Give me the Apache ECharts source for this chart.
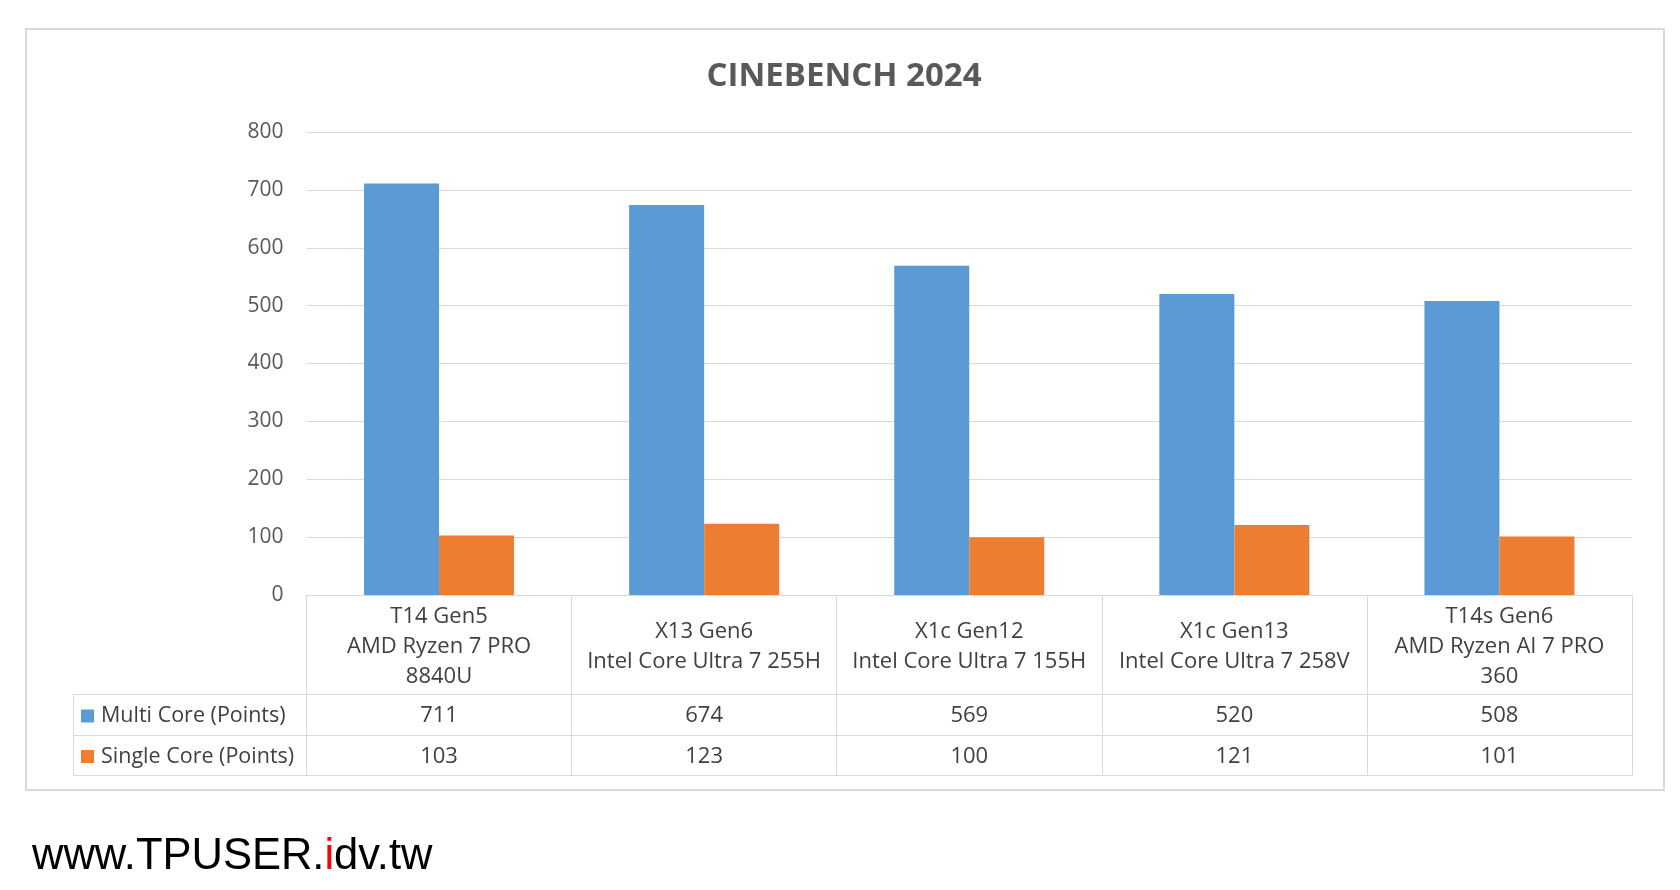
<!DOCTYPE html>
<html><head><meta charset="utf-8">
<script src="https://cdn.jsdelivr.net/npm/echarts@6/dist/echarts.min.js"></script>
<style>html,body{margin:0;padding:0;background:#fff}#c{width:1680px;height:890px}</style>
</head><body><div id="c"></div>
<script>
const chartTitle = 'CINEBENCH 2024';
const categories = [
  'T14 Gen5\nAMD Ryzen 7 PRO\n8840U',
  'X13 Gen6\nIntel Core Ultra 7 255H',
  'X1c Gen12\nIntel Core Ultra 7 155H',
  'X1c Gen13\nIntel Core Ultra 7 258V',
  'T14s Gen6\nAMD Ryzen AI 7 PRO\n360'
];
const seriesNames = ['Multi Core (Points)', 'Single Core (Points)'];
const multiCore = [711, 674, 569, 520, 508];
const singleCore = [103, 123, 100, 121, 101];
const yMin = 0, yMax = 800, yStep = 100;
const watermark = ['www.TPUSER.', 'i', 'dv.tw'];

const F = '"Open Sans", sans-serif';
const LINE = '#d9d9d9';
const TXT = '#404040';

const chart = echarts.init(document.getElementById('c'), null, {renderer: 'canvas'});

function tableAxis(data, offset, tickLen, margin, showLabel) {
  return {
    type: 'category', data: data, position: 'bottom', offset: offset,
    axisLine: {show: true, lineStyle: {color: LINE, width: 1}},
    axisTick: {show: tickLen > 0, length: tickLen, lineStyle: {color: LINE, width: 1}},
    axisLabel: {show: showLabel, interval: 0, margin: margin, verticalAlign: 'middle',
      fontSize: 22, lineHeight: 30, color: TXT, fontFamily: F, hideOverlap: false},
    splitLine: {show: false}
  };
}

const option = {
  backgroundColor: '#fff',
  animation: false,
  title: {
    text: chartTitle, left: 839, textAlign: 'center', top: 55, padding: 5,
    textStyle: {fontSize: 33, fontWeight: 'bold', color: '#595959', fontFamily: F}
  },
  legend: {
    orient: 'vertical', left: 81, top: 705, padding: 0, itemWidth: 13, itemHeight: 13, itemGap: 18.5,
    icon: 'rect', selectedMode: false, data: seriesNames,
    textStyle: {fontSize: 21.5, lineHeight: 22, color: TXT, fontFamily: F, padding: [0, 0, 0, 2]}
  },
  grid: {left: 306.5, right: 48, top: 132, bottom: 295, containLabel: false},
  xAxis: [
    tableAxis(categories, 0, 99, 51.5, true),
    tableAxis(multiCore.map(String), 99, 41, 22, true),
    tableAxis(singleCore.map(String), 140, 40, 21.5, true),
    tableAxis(categories.map(() => ''), 180, 0, 0, false)
  ],
  yAxis: {
    type: 'value', min: yMin, max: yMax, interval: yStep,
    axisLine: {show: false}, axisTick: {show: false},
    axisLabel: {fontSize: 21, color: '#595959', fontFamily: F, margin: 23},
    splitLine: {lineStyle: {color: LINE, width: 1}}
  },
  series: [
    {name: seriesNames[0], type: 'bar', data: multiCore, xAxisIndex: 0,
     barGap: '0%', barCategoryGap: '43.4%', itemStyle: {color: '#5b9bd5'}},
    {name: seriesNames[1], type: 'bar', data: singleCore, xAxisIndex: 0,
     barGap: '0%', barCategoryGap: '43.4%', itemStyle: {color: '#ed7d31'}}
  ],
  graphic: [
    {type: 'rect', silent: true, shape: {x: 26, y: 29, width: 1638, height: 761},
     style: {fill: 'none', stroke: '#d9d9d9', lineWidth: 2}},
    {type: 'polyline', silent: true,
     shape: {points: [[307, 694.5], [73.5, 694.5], [73.5, 775.5], [307, 775.5]]},
     style: {fill: 'none', stroke: LINE, lineWidth: 1}},
    {type: 'line', silent: true, shape: {x1: 73.5, y1: 735.5, x2: 307, y2: 735.5},
     style: {stroke: LINE, lineWidth: 1}},
    {type: 'text', silent: true, x: 32, y: 857,
     style: {
       text: '{a|' + watermark[0] + '}{r|' + watermark[1] + '}{a|' + watermark[2] + '}',
       verticalAlign: 'middle',
       rich: {
         a: {fontSize: 43.5, fontFamily: '"Liberation Sans", Arial, sans-serif', fill: '#000', color: '#000'},
         r: {fontSize: 43.5, fontFamily: '"Liberation Sans", Arial, sans-serif', fill: '#ff0000', color: '#ff0000'}
       }
     }}
  ]
};
chart.setOption(option);
</script>
</body></html>
